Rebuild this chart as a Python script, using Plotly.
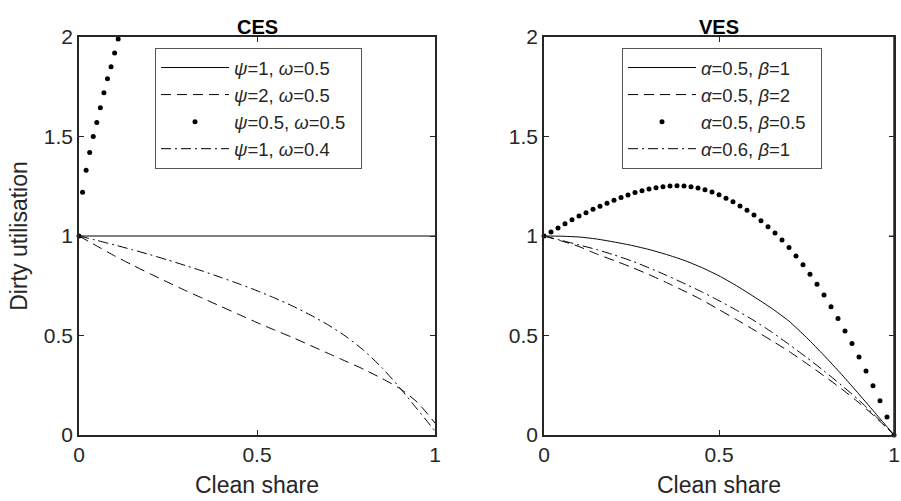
import plotly.graph_objects as go

# ---------------- data ----------------
panel_titles = ["CES", "VES"]
x_ticks = [0, 0.5, 1]
x_ticktext = ["0", "0.5", "1"]
y_ticks = [0, 0.5, 1, 1.5, 2]
y_ticktext = ["0", "0.5", "1", "1.5", "2"]

x05 = [0, 0.05, 0.1, 0.15, 0.2, 0.25, 0.3, 0.35, 0.4, 0.45, 0.5,
       0.55, 0.6, 0.65, 0.7, 0.75, 0.8, 0.85, 0.9, 0.95, 1.0]

# CES panel
ces_a_x = [0, 1]
ces_a_y = [1, 1]
ces_b_y = [1.0, 0.95, 0.90, 0.854, 0.81, 0.767, 0.725, 0.685, 0.645, 0.605, 0.565,
           0.527, 0.49, 0.45, 0.41, 0.37, 0.33, 0.285, 0.235, 0.165, 0.06]
ces_c_x = [0, 0.01, 0.02, 0.03, 0.04, 0.05, 0.06, 0.07, 0.08, 0.09, 0.10, 0.11]
ces_c_y = [1.0, 1.22, 1.33, 1.42, 1.50, 1.57, 1.645, 1.72, 1.79, 1.85, 1.92, 1.99]
ces_d_y = [1.0, 0.978, 0.955, 0.931, 0.906, 0.879, 0.851, 0.822, 0.791, 0.759, 0.725,
           0.688, 0.648, 0.603, 0.553, 0.495, 0.425, 0.34, 0.24, 0.13, 0.02]

# VES panel
ves_a_y = [1.0, 0.999, 0.995, 0.985, 0.97, 0.953, 0.932, 0.907, 0.878, 0.842, 0.80,
           0.75, 0.695, 0.637, 0.572, 0.49, 0.40, 0.305, 0.205, 0.103, 0.0]
ves_b_y = [1.0, 0.975, 0.947, 0.91, 0.877, 0.843, 0.806, 0.766, 0.724, 0.68, 0.63,
           0.58, 0.528, 0.475, 0.42, 0.36, 0.297, 0.232, 0.162, 0.085, 0.0]
ves_d_y = [1.0, 0.978, 0.955, 0.932, 0.905, 0.875, 0.84, 0.802, 0.762, 0.72, 0.675,
           0.627, 0.575, 0.518, 0.455, 0.39, 0.322, 0.25, 0.175, 0.09, 0.0]
ves_c_x = [0, 0.02, 0.04, 0.06, 0.08, 0.10, 0.12, 0.14, 0.16, 0.18, 0.20,
           0.22, 0.24, 0.26, 0.28, 0.30, 0.32, 0.34, 0.36, 0.38, 0.40,
           0.42, 0.44, 0.46, 0.48, 0.50, 0.52, 0.54, 0.56, 0.58, 0.60,
           0.62, 0.64, 0.66, 0.68, 0.70, 0.72, 0.74, 0.76, 0.78, 0.80,
           0.82, 0.84, 0.86, 0.88, 0.90, 0.92, 0.94, 0.96, 0.98, 1.00]
ves_c_y = [1.0, 1.02, 1.04, 1.062, 1.082, 1.10, 1.117, 1.134, 1.15, 1.165, 1.18,
           1.194, 1.206, 1.218, 1.228, 1.236, 1.243, 1.248, 1.251, 1.252, 1.251,
           1.247, 1.241, 1.232, 1.221, 1.207, 1.19, 1.172, 1.151, 1.129, 1.105,
           1.077, 1.047, 1.015, 0.98, 0.942, 0.90, 0.855, 0.808, 0.758, 0.703,
           0.645, 0.585, 0.523, 0.46, 0.392, 0.322, 0.247, 0.172, 0.09, 0.0]

ces_names = ["<i>ψ</i>=1, <i>ω</i>=0.5", "<i>ψ</i>=2, <i>ω</i>=0.5",
             "<i>ψ</i>=0.5, <i>ω</i>=0.5", "<i>ψ</i>=1, <i>ω</i>=0.4"]
ves_names = ["<i>α</i>=0.5, <i>β</i>=1", "<i>α</i>=0.5, <i>β</i>=2",
             "<i>α</i>=0.5, <i>β</i>=0.5", "<i>α</i>=0.6, <i>β</i>=1"]

# ---------------- styling ----------------
FONT = "Liberation Sans, Arial, sans-serif"
INK = "#262626"
LINE = "black"
DASH = "10px,6px"
DASHDOT = "10px,4px,2px,4px"
PAD = "\u00a0\u00a0"

fig = go.Figure()

def line(x, y, name, dash, xa, ya, leg):
    fig.add_trace(go.Scatter(x=x, y=y, name=name + PAD, mode="lines",
                             line=dict(color=LINE, width=1, dash=dash, shape="spline", smoothing=0.6),
                             xaxis=xa, yaxis=ya, legend=leg, cliponaxis=False))

def dots(x, y, name, xa, ya, leg):
    fig.add_trace(go.Scatter(x=x, y=y, name=name + PAD, mode="markers",
                             marker=dict(color=LINE, size=5),
                             xaxis=xa, yaxis=ya, legend=leg, cliponaxis=False))

line(ces_a_x, ces_a_y, ces_names[0], "solid", "x", "y", "legend")
line(x05, ces_b_y, ces_names[1], DASH, "x", "y", "legend")
dots(ces_c_x, ces_c_y, ces_names[2], "x", "y", "legend")
line(x05, ces_d_y, ces_names[3], DASHDOT, "x", "y", "legend")

line(x05, ves_a_y, ves_names[0], "solid", "x2", "y2", "legend2")
line(x05, ves_b_y, ves_names[1], DASH, "x2", "y2", "legend2")
dots(ves_c_x, ves_c_y, ves_names[2], "x2", "y2", "legend2")
line(x05, ves_d_y, ves_names[3], DASHDOT, "x2", "y2", "legend2")

W, H = 901, 501
ML, MR, MT, MB = 79, 7, 37, 66
PW = W - ML - MR
PH = H - MT - MB
left_dom = [0, (435 - 79) / PW]
right_dom = [(544 - 79) / PW, 1]

axis_common = dict(showgrid=False, zeroline=False, showline=True, linecolor=INK,
                   linewidth=1.5, mirror="ticks", ticks="inside", ticklen=5,
                   tickwidth=1, tickcolor=INK, automargin=False,
                   ticklabeloverflow="allow",
                   tickfont=dict(family=FONT, size=21, color=INK))
title_font = dict(size=23, family=FONT, color=INK)

fig.update_layout(
    width=W, height=H,
    margin=dict(l=ML, r=MR, t=MT, b=MB),
    paper_bgcolor="white", plot_bgcolor="white",
    font=dict(family=FONT, color=INK),
    xaxis=dict(domain=left_dom, range=[0, 1], tickvals=x_ticks, ticktext=x_ticktext,
               title=dict(text="Clean share", font=title_font, standoff=12),
               anchor="y", **axis_common),
    yaxis=dict(domain=[0, 1], range=[0, 2], tickvals=y_ticks, ticktext=y_ticktext,
               title=dict(text="Dirty utilisation", font=title_font, standoff=10),
               anchor="x", **axis_common),
    xaxis2=dict(domain=right_dom, range=[0, 1], tickvals=x_ticks, ticktext=x_ticktext,
                title=dict(text="Clean share", font=title_font, standoff=12),
                anchor="y2", **axis_common),
    yaxis2=dict(domain=[0, 1], range=[0, 2], tickvals=y_ticks, ticktext=y_ticktext,
                anchor="x2", **axis_common),
    legend=dict(x=(155 - 79) / PW, y=(435 - 48) / PH, xanchor="left", yanchor="top",
                bgcolor="white", bordercolor="#555", borderwidth=1, itemwidth=68,
                font=dict(family=FONT, size=18.5, color=INK)),
    legend2=dict(x=(622 - 79) / PW, y=(435 - 48) / PH, xanchor="left", yanchor="top",
                 bgcolor="white", bordercolor="#555", borderwidth=1, itemwidth=68,
                 font=dict(family=FONT, size=18.5, color=INK)),
    showlegend=True,
)

# right-hand frame edge of the VES panel (box outline + inward ticks)
fig.add_shape(type="line", xref="x2 domain", yref="y2 domain", x0=1, x1=1, y0=0, y1=1,
              line=dict(color=INK, width=1.5), layer="above")
for tv in y_ticks[1:-1]:
    fig.add_shape(type="line", xref="x2 domain", yref="y2", x0=1, x1=1 - 5 / (PW * (right_dom[1] - right_dom[0])),
                  y0=tv, y1=tv, line=dict(color=INK, width=1), layer="above")

for i, dom in enumerate([left_dom, right_dom]):
    fig.add_annotation(text="<b>" + panel_titles[i] + "</b>", xref="paper", yref="paper",
                       x=(dom[0] + dom[1]) / 2, y=1, xanchor="center", yanchor="bottom",
                       showarrow=False, yshift=-3,
                       font=dict(family=FONT, size=20, color="black"))

fig.write_html("out.html", config={"displayModeBar": False},
               post_script="document.body.style.margin='0';document.body.style.overflow='hidden';")
